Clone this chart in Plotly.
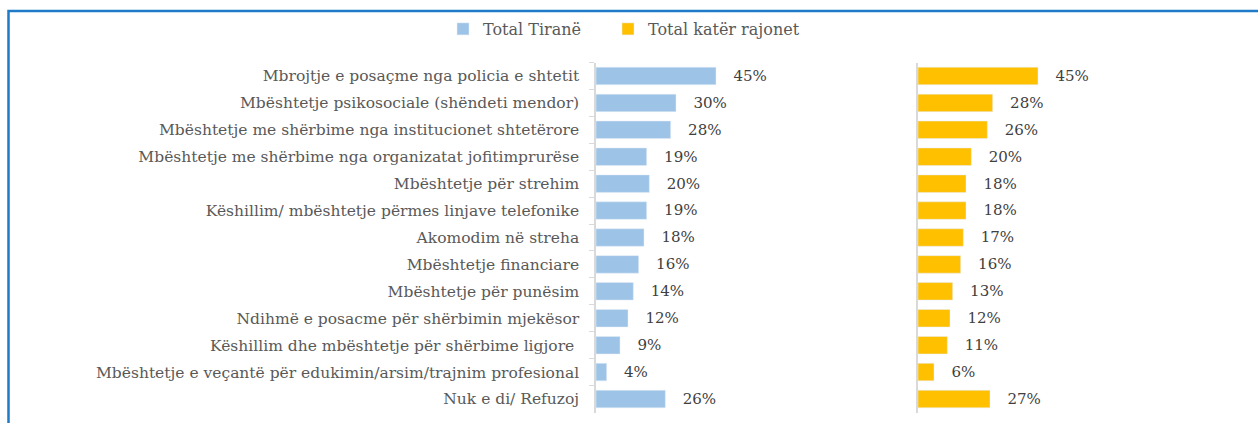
import plotly.graph_objects as go

categories = [
    "Mbrojtje e posaçme nga policia e shtetit",
    "Mbështetje psikosociale (shëndeti mendor)",
    "Mbështetje me shërbime nga institucionet shtetërore",
    "Mbështetje me shërbime nga organizatat jofitimprurëse",
    "Mbështetje për strehim",
    "Këshillim/ mbështetje përmes linjave telefonike",
    "Akomodim në streha",
    "Mbështetje financiare",
    "Mbështetje për punësim",
    "Ndihmë e posacme për shërbimin mjekësor",
    "Këshillim dhe mbështetje për shërbime ligjore ",
    "Mbështetje e veçantë për edukimin/arsim/trajnim profesional",
    "Nuk e di/ Refuzoj",
]
tirane = [45, 30, 28, 19, 20, 19, 18, 16, 14, 12, 9, 4, 26]
kater_rajonet = [45, 28, 26, 20, 18, 18, 17, 16, 13, 12, 11, 6, 27]
series_names = ["Total Tiranë", "Total katër rajonet"]

W, H = 1258, 423
FONT = "DejaVu Serif"
GRAY = "#595959"
FS = 15.5

fig = go.Figure()
fig.add_trace(go.Bar(
    y=categories, x=tirane, orientation="h", name=series_names[0],
    marker=dict(color="#9DC3E6"),
    text=[f"   {v}%" for v in tirane], textposition="outside", cliponaxis=False,
    textfont=dict(family=FONT, size=FS, color="#404040"),
    xaxis="x", yaxis="y", legend="legend",
))
fig.add_trace(go.Bar(
    y=categories, x=kater_rajonet, orientation="h", name=series_names[1],
    marker=dict(color="#FFC000"),
    text=[f"   {v}%" for v in kater_rajonet], textposition="outside", cliponaxis=False,
    textfont=dict(family=FONT, size=FS, color="#404040"),
    xaxis="x2", yaxis="y2", legend="legend2",
))

legend_common = dict(orientation="h", y=(H - 29) / H, xanchor="left", yanchor="middle",
                     font=dict(family=FONT, size=16, color=GRAY),
                     itemwidth=30, bgcolor="rgba(0,0,0,0)")

ydom = [(H - 412.5) / H, (H - 62.5) / H]
fig.update_layout(
    width=W, height=H,
    margin=dict(l=0, r=0, t=0, b=0),
    paper_bgcolor="white", plot_bgcolor="white",
    font=dict(family=FONT, size=FS, color=GRAY),
    bargap=0.35,
    showlegend=True,
    legend=dict(x=443 / W, **legend_common),
    legend2=dict(x=608 / W, **legend_common),
    xaxis=dict(domain=[596 / W, 836 / W], range=[0, 90], showgrid=False, zeroline=False,
               showticklabels=False, showline=False),
    yaxis=dict(domain=ydom, anchor="x", autorange="reversed", type="category",
               showline=True, linecolor="#D9D9D9", linewidth=1.5,
               ticks="outside", tickson="boundaries", ticklen=5, tickcolor="#D9D9D9",
               ticklabelstandoff=12,
               tickfont=dict(family=FONT, size=FS, color=GRAY), automargin=False,
               showgrid=False),
    xaxis2=dict(domain=[918 / W, 1158 / W], range=[0, 90], anchor="y2", showgrid=False,
                zeroline=False, showticklabels=False, showline=False),
    yaxis2=dict(domain=ydom, anchor="x2", autorange="reversed", type="category",
                showline=True, linecolor="#D9D9D9", linewidth=1.5, ticks="",
                showticklabels=False, showgrid=False),
    shapes=[dict(type="rect", xref="paper", yref="paper",
                 x0=8.5 / W, x1=1.05, y0=-0.1, y1=(H - 11) / H,
                 line=dict(color="#1F7BC8", width=2.5), fillcolor="rgba(0,0,0,0)")],
)

fig.write_html("out.html", config={"displayModeBar": False},
               post_script="document.body.style.margin='0';")
